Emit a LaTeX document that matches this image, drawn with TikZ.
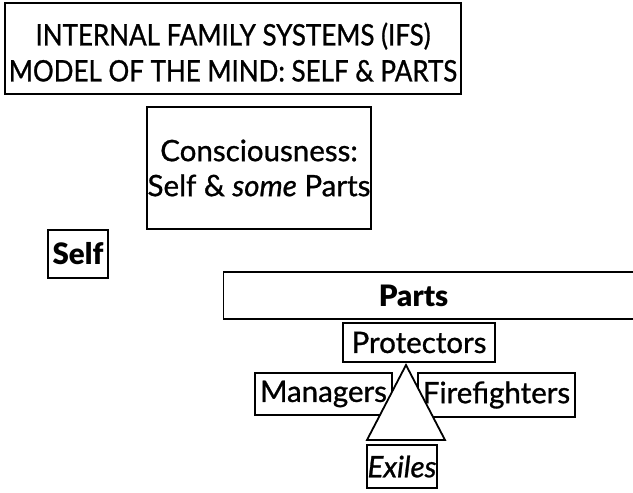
\documentclass[tikz,border=0pt]{standalone}
\usepackage{fontspec}
\setmainfont{Lato}[FakeBold=0.9]
\newfontfamily\heavyfont{Lato Black}
\newfontfamily\titlefont{Lato}[FakeStretch=0.88,FakeBold=0.9]
\usetikzlibrary{positioning}

\tikzstyle{box}=[draw=black,line width=1.1pt,fill=white,inner sep=0pt,font=\fontsize{29.5}{35}\selectfont]
\tikzstyle{heading}=[box,font=\titlefont\fontsize{29.5}{36}\selectfont,align=center]
\tikzstyle{strong}=[font=\heavyfont\fontsize{29.5}{35}\selectfont]
\tikzstyle{pyramid}=[draw=black,line width=1.8pt,fill=white,line join=miter]

\begin{document}
\begin{tikzpicture}[x=1pt,y=-1pt]
\useasboundingbox (0,0) rectangle (633,493);
\clip (0,0) rectangle (633,493);
% title and upper level
\node[heading,minimum width=456,minimum height=91] (title) at (233,48.5)
    {\rule{0pt}{30pt}INTERNAL FAMILY SYSTEMS (IFS)\\MODEL OF THE MIND: SELF \& PARTS};
\node[box,align=center,minimum width=224,minimum height=122] (consc) at (259,168)
    {Consciousness:\\Self \& \textit{some} Parts};
\node[box,strong,minimum width=60,minimum height=48] (self) at (78,254) {Self};
\node[box,anchor=west,minimum width=450,minimum height=47,
    label={[strong,xshift=-35pt]center:Parts}] (parts) at (223,295.5) {};
% parts
\node[box,minimum width=137,minimum height=42] (mgr) at (323.5,394) {Managers};
\node[box,minimum width=157,minimum height=44] (ff) at (496.5,395) {Firefighters};
\node[box,minimum width=152,minimum height=39] (prot) at (419,342.5) {Protectors};
\coordinate (apex) at (406,365);
\coordinate (baseL) at (367,440);
\coordinate (baseR) at (445,440);
\draw[pyramid] (apex) -- (baseL) -- (baseR) -- cycle;
\node[box,minimum width=70,minimum height=43] (exiles) at (402,466.5) {\textit{Exiles}};
\end{tikzpicture}
\end{document}
